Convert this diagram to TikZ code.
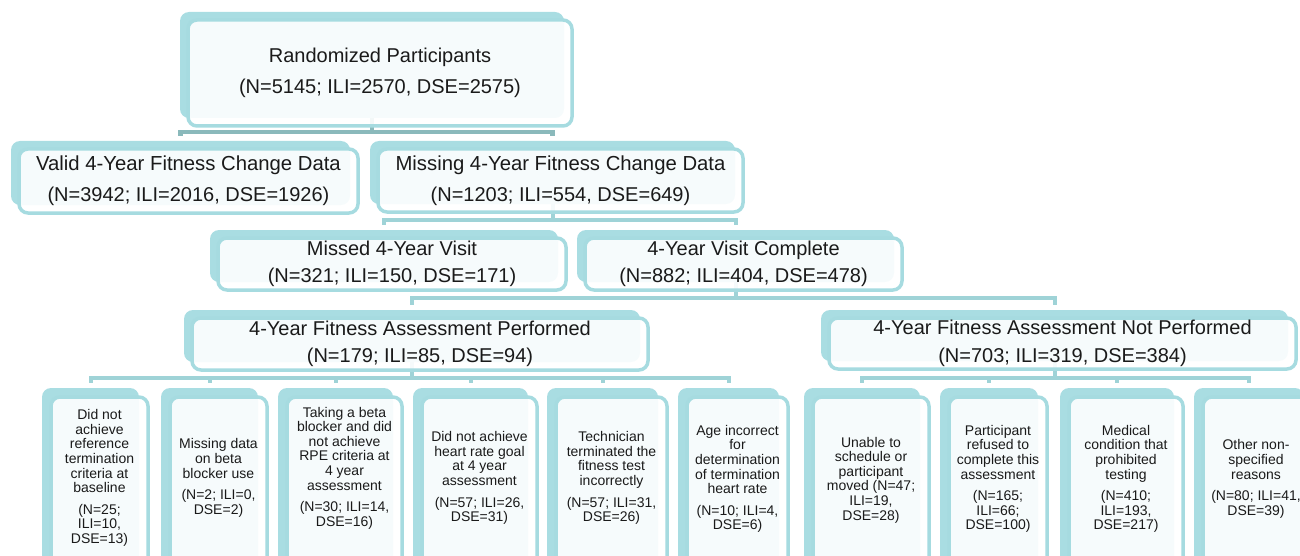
\documentclass[tikz,border=0pt]{standalone}
\usepackage{fontspec}
\setmainfont{Liberation Sans}
\pgfdeclarelayer{bg}
\pgfsetlayers{bg,main}
\definecolor{shadc}{HTML}{A9DDE2}
\definecolor{bordc}{HTML}{A6DBE0}
\definecolor{connA}{HTML}{8AB9BB}
\definecolor{connB}{HTML}{9FD3D7}
\definecolor{txtc}{HTML}{1A1A1A}
\tikzset{
 shad/.style={fill=shadc, draw=none, rounded corners=9pt, inner sep=0pt},
 front/.style={fill=white, fill opacity=0.9, text opacity=1, draw=bordc, draw opacity=1, line width=3.5pt, rounded corners=9pt, inner sep=0pt, align=center, text=txtc},
 big/.style={font=\fontsize{20}{31}\selectfont},
 mid/.style={font=\fontsize{20}{27.5}\selectfont},
 small/.style={font=\fontsize{14}{14.6}\selectfont, align=center, text=txtc, inner sep=0pt},
 linkA/.style={draw=connA, line width=4.5pt, shorten >=5pt},
 linkB/.style={draw=connB, line width=4pt, shorten >=5pt},
}
\newcommand\twobox[7]{%
 \node[shad, minimum width={(#4)-(#2)}, minimum height={(#5)-(#3)}] (s#1) at ({(#2+#4)/2-\shoff},{(#3+#5)/2-\shoff}) {};
 \node[front, minimum width={(#4)-(#2)}, minimum height={(#5)-(#3)}, #6] (f#1) at ({(#2+#4)/2},{(#3+#5)/2}) {#7};}
\begin{document}
\begin{tikzpicture}[x=1pt,y=-1pt]
\useasboundingbox (0,0) rectangle (1300,556);
\clip (0,0) rectangle (1300,556);
\def\shoff{8}
\twobox{top}{188}{20}{572}{126}{big}{Randomized Participants\\(N=5145; ILI=2570, DSE=2575)}
\twobox{valid}{19}{149}{358}{213}{big}{{\fontsize{20.3}{31}\selectfont Valid 4-Year Fitness Change Data}\\(N=3942; ILI=2016, DSE=1926)}
\twobox{missing}{378}{149}{743}{212}{big}{{\fontsize{20.3}{31}\selectfont Missing 4-Year Fitness Change Data}\\(N=1203; ILI=554, DSE=649)}
\twobox{missed}{218}{238}{566}{290}{mid}{Missed 4-Year Visit\\(N=321; ILI=150, DSE=171)}
\twobox{complete}{585}{238}{902}{290}{mid}{4-Year Visit Complete\\(N=882; ILI=404, DSE=478)}
\twobox{perf}{192}{318}{648}{370}{mid}{4-Year Fitness Assessment Performed\\(N=179; ILI=85, DSE=94)}
\twobox{notperf}{829}{318}{1296}{369}{mid}{4-Year Fitness Assessment Not Performed\\(N=703; ILI=319, DSE=384)}
\def\shoff{9}
\twobox{b1}{51}{397}{148}{585}{}{}
\twobox{b2}{170}{397}{267}{585}{}{}
\twobox{b3}{287}{397}{402}{585}{}{}
\twobox{b4}{422}{397}{537}{585}{}{}
\twobox{b5}{556}{397}{667}{585}{}{}
\twobox{b6}{687}{397}{788}{585}{}{}
\twobox{b7}{813}{397}{929}{585}{}{}
\twobox{b8}{949}{397}{1047}{585}{}{}
\twobox{b9}{1069}{397}{1183}{585}{}{}
\twobox{b10}{1203}{397}{1313}{585}{}{}
\node[small] (t1) at (99.5,478) {Did not\\achieve\\reference\\termination\\criteria at\\baseline\\[7pt](N=25;\\ILI=10,\\DSE=13)};
\node[small] (t2) at (218.5,478) {Missing data\\on beta\\blocker use\\[7pt](N=2; ILI=0,\\DSE=2)};
\node[small] (t3) at (344.5,468) {Taking a beta\\blocker and did\\not achieve\\RPE criteria at\\4 year\\assessment\\[7pt](N=30; ILI=14,\\DSE=16)};
\node[small] (t4) at (479.5,478) {Did not achieve\\heart rate goal\\at 4 year\\assessment\\[7pt](N=57; ILI=26,\\DSE=31)};
\node[small] (t5) at (611.5,478) {Technician\\terminated the\\fitness test\\incorrectly\\[7pt](N=57; ILI=31,\\DSE=26)};
\node[small] (t6) at (737.5,479) {Age incorrect\\for\\determination\\of termination\\heart rate\\[7pt](N=10; ILI=4,\\DSE=6)};
\node[small] (t7) at (871,480) {Unable to\\schedule or\\participant\\moved (N=47;\\ILI=19,\\DSE=28)};
\node[small] (t8) at (998,479) {Participant\\refused to\\complete this\\assessment\\[7pt](N=165;\\ILI=66;\\DSE=100)};
\node[small] (t9) at (1126,479) {Medical\\condition that\\prohibited\\testing\\[7pt](N=410;\\ILI=193,\\DSE=217)};
\node[small] (t10) at (1256,479) {Other non-\\specified\\reasons\\[7pt](N=80; ILI=41,\\DSE=39)};
\coordinate (yA) at (0,132);
\coordinate (yB) at (0,220);
\coordinate (yC) at (0,298);
\coordinate (yD) at (0,378);
\begin{pgfonlayer}{bg}
\foreach \c in {valid,missing} \draw[linkA] (stop.south) |- (s\c.north |- yA) -- (s\c.north);
\foreach \c in {missed,complete} \draw[linkB] (smissing.south) |- (s\c.north |- yB) -- (s\c.north);
\foreach \c in {perf,notperf} \draw[linkB] (scomplete.south) |- (s\c.north |- yC) -- (s\c.north);
\foreach \c in {b1,b2,b3,b4,b5,b6} \draw[linkB] (sperf.south) |- (s\c.north |- yD) -- (s\c.north);
\foreach \c in {b7,b8,b9,b10} \draw[linkB] (snotperf.south) |- (s\c.north |- yD) -- (s\c.north);
\end{pgfonlayer}
\end{tikzpicture}
\end{document}
